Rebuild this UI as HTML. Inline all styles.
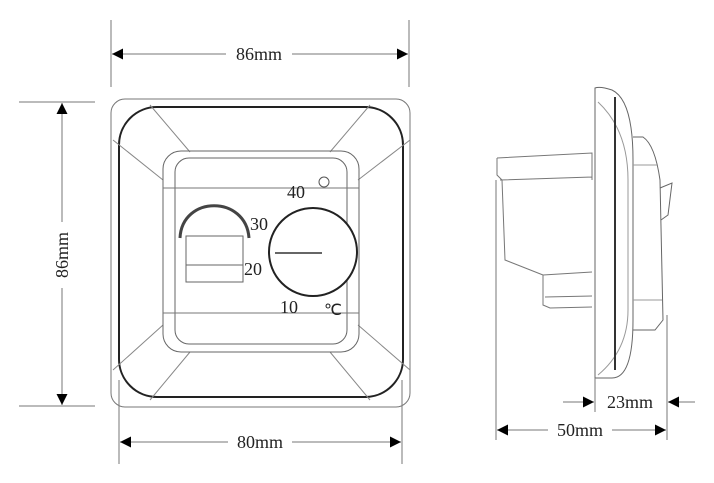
<!DOCTYPE html>
<html><head><style>html,body{margin:0;padding:0;background:#fff}svg{display:block}</style></head>
<body>
<svg width="714" height="483" viewBox="0 0 714 483" xmlns="http://www.w3.org/2000/svg" font-family="Liberation Serif, serif" fill="none" stroke="#555">
<defs>
<marker id="a" viewBox="0 0 10 10" refX="10" refY="5" markerWidth="16" markerHeight="11" orient="auto-start-reverse" markerUnits="userSpaceOnUse"><path d="M0,0 L10,5 L0,10z" fill="#000" stroke="none"/></marker>
</defs>
<!-- top dim -->
<line x1="111" y1="20" x2="111" y2="87" stroke="#777"/>
<line x1="409" y1="20" x2="409" y2="87" stroke="#777"/>
<line x1="112" y1="54" x2="226" y2="54" stroke="#777" marker-start="url(#a)"/>
<line x1="292" y1="54" x2="408" y2="54" stroke="#777" marker-end="url(#a)"/>
<text x="259" y="60" font-size="18" fill="#222" stroke="none" text-anchor="middle">86mm</text>
<!-- left dim -->
<line x1="19" y1="102" x2="95" y2="102" stroke="#777"/>
<line x1="19" y1="406" x2="95" y2="406" stroke="#777"/>
<line x1="62" y1="103" x2="62" y2="222" stroke="#777" marker-start="url(#a)"/>
<line x1="62" y1="288" x2="62" y2="405" stroke="#777" marker-end="url(#a)"/>
<text x="0" y="0" font-size="18" fill="#222" stroke="none" text-anchor="middle" transform="translate(68,255) rotate(-90)">86mm</text>
<!-- bottom dim -->
<line x1="119" y1="380" x2="119" y2="464" stroke="#777"/>
<line x1="402" y1="380" x2="402" y2="464" stroke="#777"/>
<line x1="120" y1="442" x2="228" y2="442" stroke="#777" marker-start="url(#a)"/>
<line x1="292" y1="442" x2="401" y2="442" stroke="#777" marker-end="url(#a)"/>
<text x="260" y="448" font-size="18" fill="#222" stroke="none" text-anchor="middle">80mm</text>
<!-- front -->
<rect x="111" y="99" width="299" height="308" rx="14" stroke="#777"/>
<rect x="119" y="107" width="284" height="290" rx="38" stroke="#222" stroke-width="2"/>
<path d="M113,140 L163,180 M113,370 L163,325 M410,140 L358,180 M410,370 L358,325 M150,105 L190,152 M370,105 L330,152 M150,400 L190,352 M370,400 L330,352" stroke="#888"/>
<rect x="163" y="151" width="196" height="201" rx="18" stroke="#666"/>
<rect x="175" y="158" width="172" height="186" rx="14" stroke="#666"/>
<line x1="163" y1="188" x2="359" y2="188" stroke="#777"/>
<line x1="163" y1="313" x2="359" y2="313" stroke="#777"/>
<circle cx="313" cy="252" r="44" stroke="#222" stroke-width="2" fill="#fff"/>
<line x1="275" y1="253" x2="322" y2="253" stroke="#333" stroke-width="1.5"/>
<circle cx="324" cy="182" r="5" stroke="#555"/>
<path d="M180,238 C182,195 246,195 249,238" stroke="#444" stroke-width="3"/>
<rect x="186" y="236" width="57" height="46" stroke="#666"/>
<line x1="186" y1="265" x2="243" y2="265" stroke="#666"/>
<g fill="#222" stroke="none" font-size="18">
<text x="287" y="198">40</text>
<text x="250" y="230">30</text>
<text x="244" y="275">20</text>
<text x="280" y="313">10</text>
<text x="324" y="315" font-size="16">℃</text>
</g>
<!-- side view -->
<path d="M497,158 L592,153 L592,180 M500,180 L592,177" stroke="#777"/>
<path d="M497,158 L497,175 L502,180 L505,260 L543,275 L543,305 L550,308 L592,307" stroke="#777"/>
<path d="M543,275 L592,272 M545,297 L592,296" stroke="#777"/>
<path d="M595,88 Q600,86 612,90 Q633,100 633,160 L633,320 Q633,378 612,378 L595,378 Z" stroke="#666" fill="#fff"/>
<path d="M598,102 Q628,130 628,180 L628,310 Q628,350 598,375" stroke="#999"/>
<line x1="615" y1="97" x2="615" y2="370" stroke="#333" stroke-width="2"/>
<path d="M633,137 L643,137 Q655,145 660,180 L663,320 L655,330 L633,330" stroke="#666"/>
<path d="M633,165 L657,165 M633,300 L662,300" stroke="#999"/>
<path d="M660,188 L672,183 L668,215 L661,220" stroke="#666"/>
<line x1="496" y1="180" x2="496" y2="440" stroke="#777"/>
<line x1="595" y1="378" x2="595" y2="412" stroke="#777"/>
<line x1="667" y1="315" x2="667" y2="440" stroke="#777"/>
<line x1="563" y1="402" x2="594" y2="402" stroke="#777" marker-end="url(#a)"/>
<line x1="695" y1="402" x2="668" y2="402" stroke="#777" marker-end="url(#a)"/>
<text x="630" y="408" font-size="18" fill="#222" stroke="none" text-anchor="middle">23mm</text>
<line x1="497" y1="430" x2="548" y2="430" stroke="#777" marker-start="url(#a)"/>
<line x1="612" y1="430" x2="666" y2="430" stroke="#777" marker-end="url(#a)"/>
<text x="580" y="436" font-size="18" fill="#222" stroke="none" text-anchor="middle">50mm</text>
</svg>
</body></html>
